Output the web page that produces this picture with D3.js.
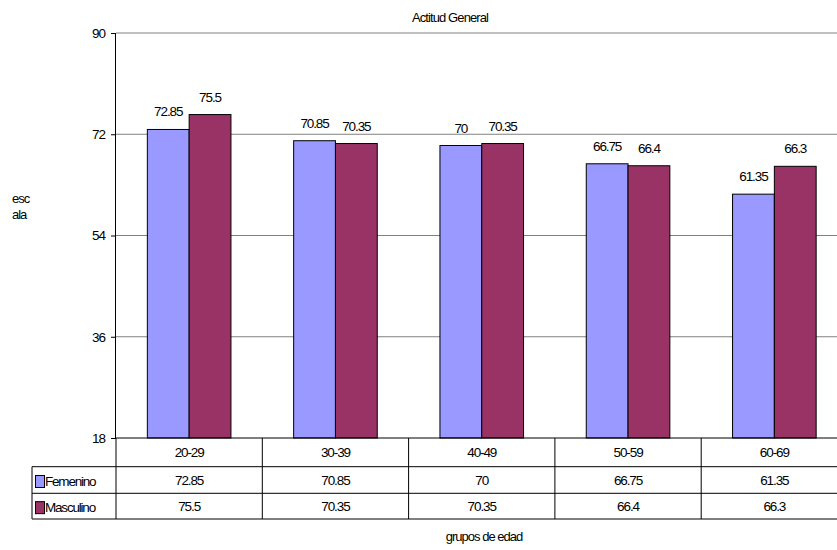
<!DOCTYPE html>
<html><head><meta charset="utf-8">
<script src="https://cdn.jsdelivr.net/npm/d3@7"></script>
<style>body{margin:0;background:#fff;} svg{font-family:"Liberation Sans",Arial,sans-serif;}</style>
</head><body><svg id="c" width="837" height="550"></svg>
<script>
const categories = ["20-29","30-39","40-49","50-59","60-69"];
const femenino = [72.85,70.85,70,66.75,61.35];
const masculino = [75.5,70.35,70.35,66.4,66.3];
const seriesNames = ["Femenino","Masculino"];
const seriesColors = ["#9999FF","#993366"];
const yTicks = [18,36,54,72,90];
const title = "Actitud General";
const xTitle = "grupos de edad";
const yTitleLines = ["esc","ala"];

(function(){
const svg = d3.select("#c");
const pL = 116, pR = 847.5, pT = 33, pB = 438;
const y = d3.scaleLinear().domain([18,90]).range([pB, pT]);
const x = d3.scaleBand().domain(categories).range([pL, pR]);
const colW = x.bandwidth();
const barW = colW / 3.5;
const series = [femenino, masculino];

// gridlines
svg.append("g").selectAll("line").data(yTicks.filter(t=>t>18)).join("line")
  .attr("x1", pL).attr("x2", pR).attr("y1", d=>y(d)).attr("y2", d=>y(d))
  .attr("stroke", "#808080").attr("stroke-width", 1);

// bars
series.forEach((vals, si) => {
  svg.append("g").selectAll("rect").data(vals).join("rect")
    .attr("x", (d,i)=> x(categories[i]) + colW/2 - barW + si*barW)
    .attr("y", d=>y(d)).attr("width", barW).attr("height", d=>pB - y(d))
    .attr("fill", seriesColors[si]).attr("stroke", "#000").attr("stroke-width", 1);
  svg.append("g").selectAll("text").data(vals).join("text")
    .attr("x", (d,i)=> x(categories[i]) + colW/2 - barW/2 + si*barW)
    .attr("y", d=>y(d) - 13)
    .attr("text-anchor","middle").attr("font-size", 13.5).attr("letter-spacing", "-1.1px")
    .text(d=>d);
});

// y axis
const yAxis = d3.axisLeft(y).tickValues(yTicks).tickSize(5).tickPadding(6);
const ga = svg.append("g").attr("transform", `translate(${pL},0)`).call(yAxis);
ga.select(".domain").attr("stroke","#000").attr("d", `M-0.5,${pT}V${pB}`);
ga.selectAll(".tick line").attr("stroke","#000");
ga.selectAll(".tick text").attr("font-size", 13.5).attr("letter-spacing","-1px")
  .attr("font-family","Liberation Sans, Arial, sans-serif").attr("fill","#000");

// data table
const rowH = [pB, 466.7, 493.3, 519];
const tbl = svg.append("g").attr("stroke","#000").attr("stroke-width",1);
tbl.append("line").attr("x1", pL).attr("x2", pR).attr("y1", rowH[0]).attr("y2", rowH[0]);
[1,2,3].forEach(k => tbl.append("line").attr("x1", 32).attr("x2", pR).attr("y1", rowH[k]).attr("y2", rowH[k]));
tbl.append("line").attr("x1", 32).attr("x2", 32).attr("y1", rowH[1]).attr("y2", rowH[3]);
categories.forEach(c => tbl.append("line").attr("x1", x(c)).attr("x2", x(c)).attr("y1", rowH[0]).attr("y2", rowH[3]));
tbl.append("line").attr("x1", pR).attr("x2", pR).attr("y1", rowH[0]).attr("y2", rowH[3]);

const tt = svg.append("g").attr("font-size", 13.5).attr("letter-spacing","-1.1px").attr("text-anchor","middle");
tt.selectAll("text.h").data(categories).join("text").attr("class","h")
  .attr("x", d=>x(d)+colW/2).attr("y", (rowH[0]+rowH[1])/2 + 5).text(d=>d);
series.forEach((vals, si) => {
  tt.append("g").selectAll("text").data(vals).join("text")
    .attr("x", (d,i)=>x(categories[i])+colW/2).attr("y", (rowH[si+1]+rowH[si+2])/2 + 5).text(d=>d);
  svg.append("rect").attr("x", 35.5).attr("y", (rowH[si+1]+rowH[si+2])/2 - 4.5).attr("width", 9).attr("height", 12)
    .attr("fill", seriesColors[si]).attr("stroke","#000").attr("stroke-width",1);
  svg.append("text").attr("x", 45).attr("y", (rowH[si+1]+rowH[si+2])/2 + 6)
    .attr("font-size", 13.5).attr("letter-spacing","-1.2px").text(seriesNames[si]);
});

// titles
svg.append("text").attr("x", 450).attr("y", 22).attr("text-anchor","middle")
  .attr("font-size", 13).attr("letter-spacing","-0.9px").text(title);
svg.append("text").attr("x", 484).attr("y", 541).attr("text-anchor","middle")
  .attr("font-size", 13).attr("letter-spacing","-1px").text(xTitle);
svg.append("g").selectAll("text").data(yTitleLines).join("text")
  .attr("x", 12).attr("y", (d,i)=> 203 + i*16).attr("font-size", 13).attr("letter-spacing","-1px").text(d=>d);
})();
</script></body></html>
